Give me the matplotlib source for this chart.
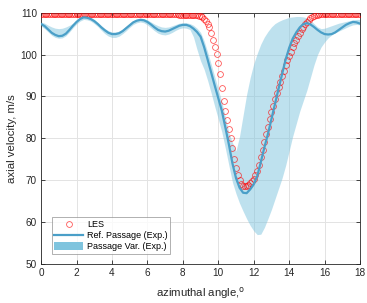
import numpy as np
import matplotlib
matplotlib.use("Agg")
import matplotlib.pyplot as plt

plt.rcParams['font.family'] = ['Liberation Sans', 'DejaVu Sans']

# experimental reference passage + passage variability, sampled every 0.2 deg
exp_angle = np.round(np.arange(0, 18.01, 0.2), 1)
ref_passage = [
    107.3, 106.8, 106.0, 105.2, 104.7, 104.4, 104.5, 105.0, 105.9, 106.9,
    107.8, 108.5, 108.9, 108.8, 108.5, 108.0, 107.3, 106.5, 105.8, 105.2,
    104.9, 104.9, 105.1, 105.6, 106.3, 107.0, 107.7, 108.1, 108.3, 108.2,
    107.8, 107.2, 106.5, 105.9, 105.6, 105.5, 105.7, 106.1, 106.5, 106.9,
    107.1, 107.1, 106.8, 106.2, 105.4, 104.3, 101.8, 98.8, 95.7, 92.6,
    89.6, 86.6, 82.6, 78.5, 74.0, 70.5, 68.2, 67.0, 66.9, 67.8,
    69.0, 71.0, 74.3, 77.8, 81.0, 84.6, 88.2, 91.8, 95.3, 98.8,
    101.6, 103.8, 105.3, 106.5, 107.3, 107.5, 107.2, 106.6, 105.9, 105.3,
    104.9, 104.8, 104.9, 105.3, 105.9, 106.5, 107.1, 107.5, 107.8, 107.7,
    107.4]
var_low = [
    106.8, 106.2, 105.4, 104.6, 104.1, 103.9, 104.0, 104.5, 105.4, 106.4,
    107.3, 108.0, 108.4, 108.3, 108.0, 107.4, 106.7, 105.8, 105.0, 104.4,
    104.1, 104.1, 104.4, 105.0, 105.7, 106.5, 107.2, 107.6, 107.8, 107.6,
    107.1, 106.4, 105.7, 105.1, 104.8, 104.7, 104.9, 105.3, 105.8, 106.2,
    106.4, 106.3, 106.0, 104.2, 101.2, 98.5, 96.5, 93.8, 90.8, 87.6,
    84.6, 81.5, 77.6, 73.5, 69.5, 66.8, 64.5, 62.6, 60.8, 59.2,
    57.9, 57.0, 57.1, 58.7, 60.8, 63.0, 65.5, 68.0, 70.5, 73.5,
    77.0, 80.5, 83.5, 86.5, 89.0, 91.5, 94.5, 97.5, 100.0, 101.8,
    103.0, 104.0, 104.7, 105.2, 105.6, 106.0, 106.4, 106.8, 107.1, 107.2,
    107.1]
var_high = [
    107.8, 107.5, 107.0, 106.6, 106.3, 106.2, 106.3, 106.6, 107.0, 107.5,
    108.2, 108.9, 109.3, 109.2, 108.9, 108.4, 107.7, 106.9, 106.2, 105.7,
    105.4, 105.4, 105.6, 106.1, 106.8, 107.5, 108.1, 108.5, 108.7, 108.6,
    108.3, 107.8, 107.3, 106.9, 106.6, 106.5, 106.6, 106.9, 107.2, 107.5,
    107.6, 107.6, 107.4, 107.0, 106.3, 105.3, 103.3, 100.6, 97.7, 94.7,
    91.7, 88.7, 85.0, 81.3, 79.0, 77.0, 80.5, 85.5, 90.5, 94.5,
    97.8, 100.3, 102.5, 104.2, 105.5, 106.6, 107.4, 107.9, 108.3, 108.6,
    108.9, 109.0, 109.1, 109.1, 109.0, 108.8, 108.2, 107.4, 106.6, 106.2,
    106.3, 106.6, 106.9, 107.2, 107.5, 107.7, 107.9, 108.1, 108.3, 108.4,
    108.4]

# LES, every 0.1 deg
les_angle = np.round(np.arange(0, 18.01, 0.1), 1)
les_vel = ([109.8] * 71 +
           [109.7, 109.7, 109.7, 109.6, 109.6, 109.6, 109.6, 109.5, 109.5, 109.5,
            109.5, 109.5, 109.5, 109.5, 109.5, 109.5, 109.5, 109.4, 109.3, 109.1,
            108.9, 108.5, 108.0, 107.4, 106.6, 105.2, 103.6, 101.9, 100.2, 98.0,
            95.4, 92.0, 88.8, 86.6, 84.4, 82.2, 80.0, 77.6, 75.0, 73.0,
            71.3, 70.0, 69.2, 68.7, 68.5, 68.6, 68.9, 69.3, 69.7, 70.3,
            71.2, 72.3, 73.7, 75.5, 77.3, 79.2, 81.0, 82.8, 84.5, 86.2,
            87.8, 89.3, 90.8, 92.2, 93.5, 94.8, 96.1, 97.4, 98.6, 99.7,
            100.7, 101.7, 102.7, 103.6, 104.4, 105.2, 106.0, 106.7, 107.3, 107.9,
            108.3, 108.7, 109.0, 109.2, 109.4, 109.5, 109.6, 109.7, 109.7] +
           [109.8] * 21)

fig = plt.figure(figsize=(3.67, 3.03), dpi=100)
ax = fig.add_axes([0.112, 0.129, 0.869, 0.829])

ax.fill_between(exp_angle, var_low, var_high, color='#7fc4de', alpha=0.5,
                linewidth=0, label='Passage Var. (Exp.)', zorder=2)
ax.plot(les_angle, les_vel, 'o', mfc='none', mec='red', mew=0.6, ms=4.2,
        alpha=0.65, label='LES', zorder=3)
ax.plot(exp_angle, ref_passage, color='#4a9fc8', lw=1.6,
        label='Ref. Passage (Exp.)', zorder=4)

ax.set_xlim(0, 18)
ax.set_ylim(50, 110)
ax.set_xticks(range(0, 19, 2))
ax.set_yticks(range(50, 111, 10))
ax.grid(True, color='#e3e3e3', lw=0.7, zorder=0)
ax.set_axisbelow(True)
ax.tick_params(direction='in', length=3, width=0.6, labelsize=7.2,
               colors='#262626', top=True, right=True, pad=3)
for s in ax.spines.values():
    s.set_color('#262626')
    s.set_linewidth(0.6)

ax.set_xlabel('azimuthal angle,$^{\\mathrm{o}}$', fontsize=8.2, color='#262626',
              labelpad=5)
ax.set_ylabel('axial velocity, m/s', fontsize=8.2, color='#262626', labelpad=2)

h, l = ax.get_legend_handles_labels()
order = [l.index('LES'), l.index('Ref. Passage (Exp.)'), l.index('Passage Var. (Exp.)')]
leg = ax.legend([h[i] for i in order], [l[i] for i in order], loc='lower left',
                bbox_to_anchor=(0.0335, 0.04), borderaxespad=0,
                fontsize=6.5, fancybox=False, edgecolor='#8c8c8c',
                handlelength=3.2, handleheight=0.9, labelspacing=0.22,
                borderpad=0.3, handletextpad=0.4)
leg.get_frame().set_linewidth(0.6)
leg.legend_handles[2].set_alpha(None)

fig.savefig('out.png', dpi=100)
